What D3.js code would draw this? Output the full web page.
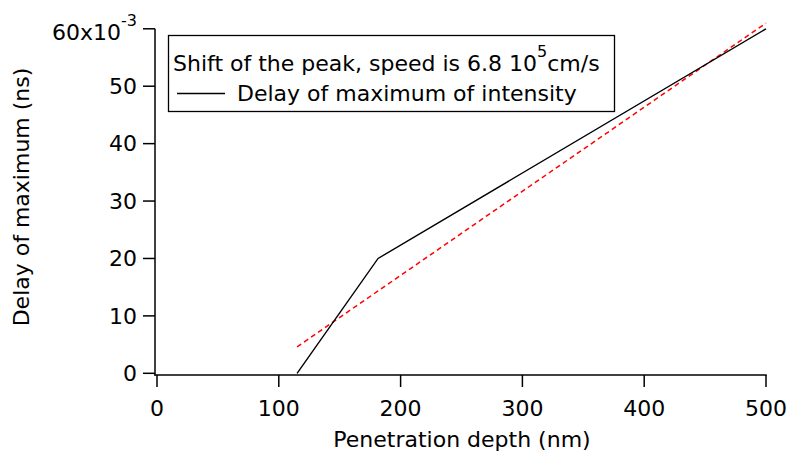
<!DOCTYPE html>
<html><head><meta charset="utf-8">
<script src="https://cdn.jsdelivr.net/npm/d3@7"></script>
<style>body{margin:0;background:#fff}svg{display:block}text{font-family:"DejaVu Sans",sans-serif;fill:#000}</style>
</head><body>
<svg id="c" width="789" height="452"></svg>
<script>
// Data (y in units of 10^-3 ns)
const delayDepth = [115, 181.5, 500];
const delayValue = [0, 20, 60];
const fitDepth = [115, 500];
const fitValue = [4.6, 61.0];
const xTicks = [0, 100, 200, 300, 400, 500];
const yTicks = [0, 10, 20, 30, 40, 50, 60];
const legendTitle = ["Shift of the peak, speed is 6.8 10", "5", "cm/s"];
const legendLabel = "Delay of maximum of intensity";
const xTitle = "Penetration depth (nm)";
const yTitle = "Delay of maximum (ns)";

const svg = d3.select("#c");
const FS = 22;
const x = d3.scaleLinear().domain([0, 500]).range([157, 766]);
const y = d3.scaleLinear().domain([0, 60]).range([373.3, 28.8]);

// axes lines
svg.append("line").attr("x1",155).attr("x2",155).attr("y1",y(60)).attr("y2",375.5).attr("stroke","#000").attr("stroke-width",1.5);
svg.append("line").attr("x1",154.3).attr("x2",x(500)+0.7).attr("y1",375).attr("y2",375).attr("stroke","#000").attr("stroke-width",1.5);

// x ticks
const xa = svg.append("g");
xTicks.forEach(t=>{
  xa.append("line").attr("x1",x(t)).attr("x2",x(t)).attr("y1",375).attr("y2",387).attr("stroke","#000").attr("stroke-width",1.5);
  xa.append("text").attr("x",x(t)).attr("y",416).attr("text-anchor","middle").attr("font-size",FS).text(t);
});
// y ticks
const ya = svg.append("g");
yTicks.forEach(t=>{
  ya.append("line").attr("x1",143).attr("x2",155).attr("y1",y(t)).attr("y2",y(t)).attr("stroke","#000").attr("stroke-width",1.5);
  if (t === 60) {
    const tx = ya.append("text").attr("x",137).attr("y",y(t)+11.5).attr("text-anchor","end").attr("font-size",FS);
    tx.append("tspan").text("60x10");
    tx.append("tspan").attr("dy",-14).attr("font-size",16).text("-3");
  } else {
    ya.append("text").attr("x",137).attr("y",y(t)+7.8).attr("text-anchor","end").attr("font-size",FS).text(t);
  }
});

// axis titles
svg.append("text").attr("x",462).attr("y",446.5).attr("text-anchor","middle").attr("font-size",FS).text(xTitle);
svg.append("text").attr("transform","translate(29,197) rotate(-90)").attr("text-anchor","middle").attr("font-size",FS).text(yTitle);

// data lines
const line = d3.line().x(d=>x(d[0])).y(d=>y(d[1]));
svg.append("path").datum(fitDepth.map((d,i)=>[d,fitValue[i]])).attr("d",line)
  .attr("fill","none").attr("stroke","#f00").attr("stroke-width",1.5).attr("stroke-dasharray","5,3.5");
svg.append("path").datum(delayDepth.map((d,i)=>[d,delayValue[i]])).attr("d",line)
  .attr("fill","none").attr("stroke","#000").attr("stroke-width",1.4);

// legend
const lg = svg.append("g");
lg.append("rect").attr("x",168.5).attr("y",35.5).attr("width",446).attr("height",76).attr("fill","#fff").attr("stroke","#000").attr("stroke-width",1.3);
const t1 = lg.append("text").attr("x",173).attr("y",70.5).attr("font-size",FS);
t1.append("tspan").text(legendTitle[0]);
t1.append("tspan").attr("dy",-14).attr("font-size",16).text(legendTitle[1]);
t1.append("tspan").attr("dy",14).text(legendTitle[2]);
lg.append("line").attr("x1",177).attr("x2",225).attr("y1",93.5).attr("y2",93.5).attr("stroke","#000").attr("stroke-width",1.3);
lg.append("text").attr("x",237).attr("y",100.5).attr("font-size",FS).text(legendLabel);
</script>
</body></html>
